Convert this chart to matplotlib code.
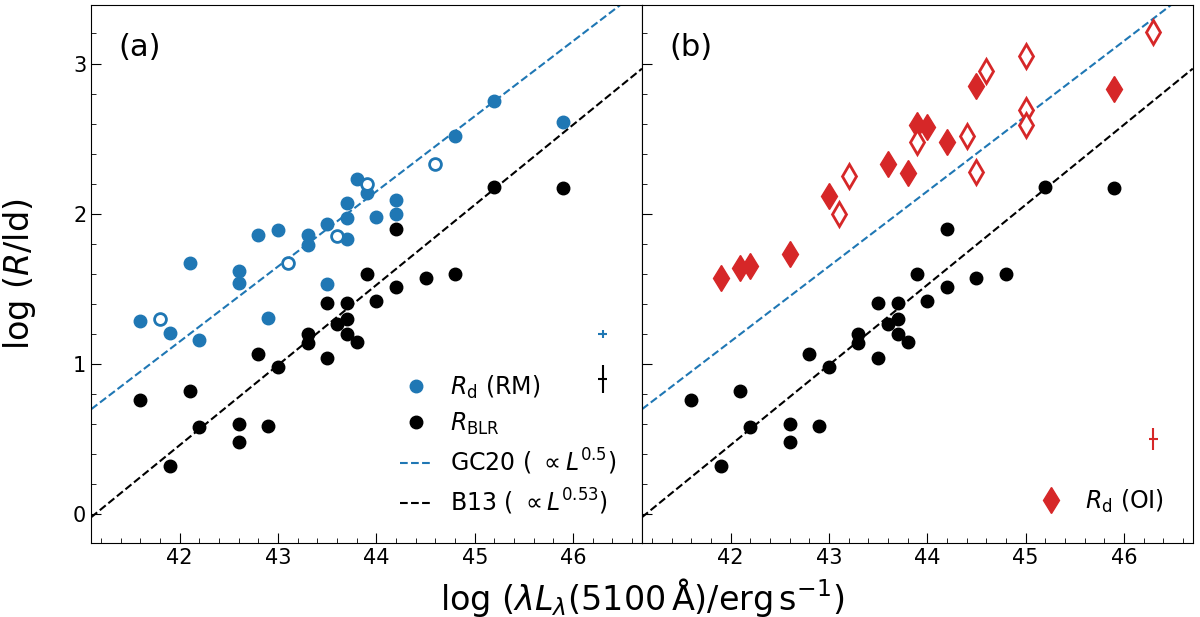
import numpy as np
import matplotlib
matplotlib.use("Agg")
import matplotlib.pyplot as plt

# R_d from reverberation mapping (filled / open)
rm_logL = [41.6, 41.9, 42.1, 42.2, 42.6, 42.6, 42.8, 42.9, 43.0, 43.3, 43.3, 43.5,
           43.5, 43.7, 43.7, 43.7, 43.8, 43.9, 44.0, 44.2, 44.2, 44.8, 45.2, 45.9]
rm_logR = [1.29, 1.21, 1.67, 1.16, 1.62, 1.54, 1.86, 1.31, 1.89, 1.86, 1.79, 1.93,
           1.53, 2.07, 1.97, 1.83, 2.23, 2.14, 1.98, 2.09, 2.00, 2.52, 2.75, 2.61]
rm_open_logL = [41.8, 43.1, 43.6, 43.9, 44.6]
rm_open_logR = [1.30, 1.67, 1.85, 2.20, 2.33]

# BLR radii
blr_logL = [41.6, 41.9, 42.1, 42.2, 42.6, 42.6, 42.8, 42.9, 43.0, 43.3, 43.3, 43.5, 43.5,
            43.6, 43.7, 43.7, 43.7, 43.8, 43.9, 44.0, 44.2, 44.2, 44.5, 44.8, 45.2, 45.9]
blr_logR = [0.76, 0.32, 0.82, 0.58, 0.60, 0.48, 1.07, 0.59, 0.98, 1.20, 1.14, 1.41, 1.04,
            1.27, 1.41, 1.30, 1.20, 1.15, 1.60, 1.42, 1.90, 1.51, 1.57, 1.60, 2.18, 2.17]

# R_d from optical interferometry (filled / open)
oi_logL = [41.9, 42.1, 42.2, 42.6, 43.0, 43.6, 43.8, 43.9, 44.0, 44.2, 44.5, 45.9]
oi_logR = [1.57, 1.64, 1.65, 1.73, 2.12, 2.33, 2.27, 2.59, 2.58, 2.48, 2.85, 2.83]
oi_open_logL = [43.1, 43.2, 43.9, 44.4, 44.5, 44.6, 45.0, 45.0, 45.0, 46.3]
oi_open_logR = [2.00, 2.25, 2.48, 2.52, 2.28, 2.95, 3.05, 2.69, 2.59, 3.21]

# typical error bars: (logL, logR, xerr, yerr)
err_rm = (46.3, 1.20, 0.045, 0.028)
err_blr = (46.3, 0.90, 0.045, 0.093)
err_oi = (46.3, 0.50, 0.05, 0.072)

# relations: log R = a + b (logL - 44)
gc20 = (2.15, 0.5)
b13 = (1.527, 0.533)

blue = "#1f77b4"
red = "#d62728"

fig, axes = plt.subplots(1, 2, figsize=(12, 6.17), dpi=100, sharey=True)
fig.subplots_adjust(left=0.076, right=0.994, top=0.992, bottom=0.12, wspace=0)

xx = np.array([41.1, 46.7])

for ax in axes:
    ax.plot(blr_logL, blr_logR, "o", color="k", ms=9, label=r"$R_\mathrm{BLR}$", zorder=3)
    ax.plot(xx, gc20[0] + gc20[1] * (xx - 44), "--", color=blue, lw=1.5,
            label=r"GC20 ( $\propto L^{0.5}$)")
    ax.plot(xx, b13[0] + b13[1] * (xx - 44), "--", color="k", lw=1.5,
            label=r"B13 ( $\propto L^{0.53}$)")
    ax.set_xlim(41.1, 46.7)
    ax.set_ylim(-0.19, 3.39)
    ax.set_xticks([42, 43, 44, 45, 46])
    ax.set_yticks([0, 1, 2, 3])
    ax.xaxis.set_minor_locator(matplotlib.ticker.MultipleLocator(0.2))
    ax.yaxis.set_minor_locator(matplotlib.ticker.MultipleLocator(0.2))
    ax.tick_params(which="both", direction="in", labelsize=15)
    ax.tick_params(which="major", length=7)
    ax.tick_params(which="minor", length=3.5)

ax = axes[0]
ax.plot(rm_logL, rm_logR, "o", color=blue, ms=9, label=r"$R_\mathrm{d}$ (RM)", zorder=4)
ax.plot(rm_open_logL, rm_open_logR, "o", mfc="white", mec=blue, mew=2, ms=8.5, zorder=4)
ax.errorbar(err_rm[0], err_rm[1], xerr=err_rm[2], yerr=err_rm[3], fmt="none", ecolor=blue, elinewidth=1.5)
ax.errorbar(err_blr[0], err_blr[1], xerr=err_blr[2], yerr=err_blr[3], fmt="none", ecolor="k", elinewidth=1.5)
handles, labels = ax.get_legend_handles_labels()
order = [3, 0, 1, 2]
ax.legend([handles[i] for i in order], [labels[i] for i in order], loc="lower right",
          frameon=False, fontsize=17, handlelength=1.3, labelspacing=0.42,
          borderaxespad=0.7)
ax.text(0.05, 0.92, "(a)", transform=ax.transAxes, fontsize=22, va="center")
ax.set_ylabel(r"log ($R$/ld)", fontsize=24, labelpad=25)

ax = axes[1]
ax.plot(oi_logL, oi_logR, "d", color=red, ms=13, label=r"$R_\mathrm{d}$ (OI)", zorder=4)
ax.plot(oi_open_logL, oi_open_logR, "d", mfc="white", mec=red, mew=2, ms=12, zorder=4)
ax.errorbar(err_oi[0], err_oi[1], xerr=err_oi[2], yerr=err_oi[3], fmt="none", ecolor=red, elinewidth=1.5)
handles, labels = ax.get_legend_handles_labels()
ax.legend([handles[3]], [labels[3]], loc="lower right", frameon=False, fontsize=17,
          handlelength=1.3, borderaxespad=0.8)
ax.text(0.05, 0.92, "(b)", transform=ax.transAxes, fontsize=22, va="center")

fig.text(0.535, 0.012, r"log ($\lambda L_\lambda$(5100$\,\mathrm{\AA}$)/erg$\,$s$^{-1}$)",
         ha="center", fontsize=24)

fig.savefig("out.png", dpi=100)
